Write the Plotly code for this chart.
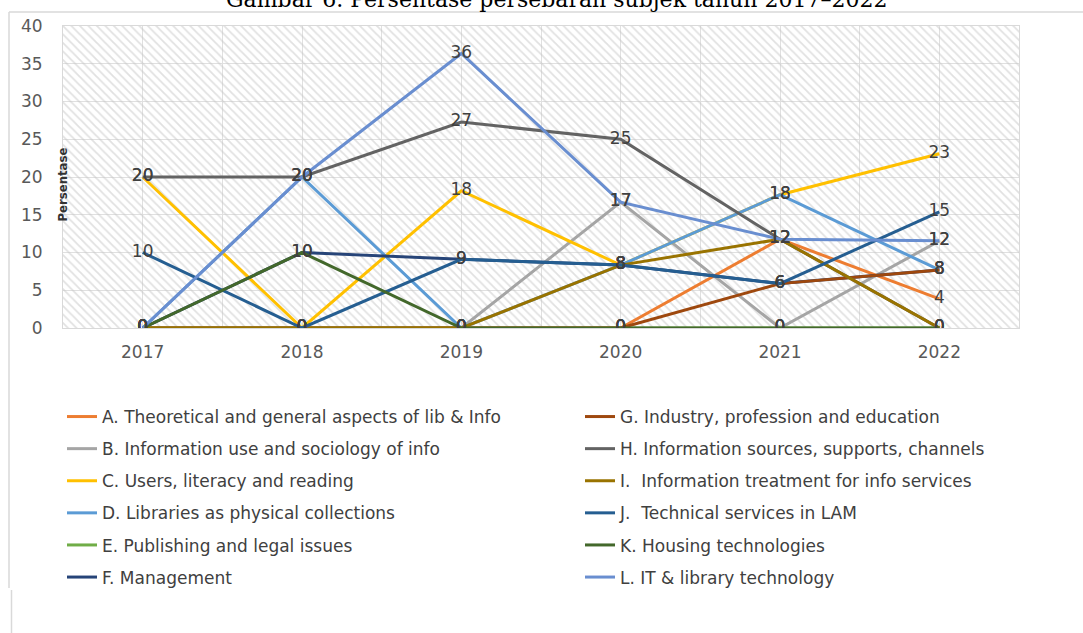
import plotly.graph_objects as go

years = ["2017", "2018", "2019", "2020", "2021", "2022"]

names = [
    "A. Theoretical and general aspects of lib & Info",
    "B. Information use and sociology of info",
    "C. Users, literacy and reading",
    "D. Libraries as physical collections",
    "E. Publishing and legal issues",
    "F. Management",
    "G. Industry, profession and education",
    "H. Information sources, supports, channels",
    "I.  Information treatment for info services",
    "J.  Technical services in LAM",
    "K. Housing technologies",
    "L. IT & library technology",
]

A = [0, 0, 0, 0, 11.76, 3.85]
B = [0, 0, 0, 16.67, 0, 11.54]
C = [20, 0, 18.18, 8.33, 17.65, 23.08]
D = [0, 20, 0, 8.33, 17.65, 7.69]
E = [0, 0, 0, 0, 0, 0]
F = [0, 10, 9.09, 8.33, 5.88, 7.69]
G = [0, 0, 0, 0, 5.88, 7.69]
H = [20, 20, 27.27, 25, 11.76, 0]
I = [0, 0, 0, 8.33, 11.76, 0]
J = [10, 0, 9.09, 8.33, 5.88, 15.38]
K = [0, 10, 0, 0, 0, 0]
L = [0, 20, 36.36, 16.67, 11.76, 11.54]

series = [A, B, C, D, E, F, G, H, I, J, K, L]
colors = ["#ED7D31", "#A5A5A5", "#FFC000", "#5B9BD5", "#70AD47", "#264478",
          "#9E480E", "#636363", "#997300", "#255E91", "#43682B", "#698ED0"]

y_max = 40
xs = list(range(len(years)))

# plot geometry (pixels)
W, Hh = 1083, 633
PL, PR, PT, PB = 63, 1019, 26, 328
pw, ph = PR - PL, PB - PT

def xp(px):
    return (px - PL) / pw

def yp(py):
    return (PB - py) / ph

fig = go.Figure()

# hatched plot background
fig.add_trace(go.Bar(
    x=[(len(years) - 1) / 2], y=[y_max], width=[len(years)], base=[0],
    marker=dict(color="rgba(0,0,0,0)", line=dict(width=0),
                pattern=dict(shape="\\", fgcolor="#c4c4c4", bgcolor="rgba(0,0,0,0)",
                             size=6, solidity=0.3)),
    showlegend=False, hoverinfo="skip",
))

for i, (nm, vals, col) in enumerate(zip(names, series, colors)):
    fig.add_trace(go.Scatter(
        x=xs, y=vals, mode="lines", name=nm,
        line=dict(color=col, width=3),
        legend="legend" if i < 6 else "legend2",
        legendgroup=nm,
    ))

for i, vals in enumerate(series):
    fig.add_trace(go.Scatter(
        x=xs, y=vals, mode="text", texttemplate="%{y:.0f}",
        textposition="middle center",
        textfont=dict(family="DejaVu Sans", size=17, color="#404040"),
        showlegend=False, hoverinfo="skip",
    ))

grid = "#e0e0e0"
fig.update_xaxes(
    range=[-0.5, len(years) - 0.5], tickmode="array", tickvals=xs, ticktext=years,
    showgrid=True, gridcolor=grid, gridwidth=1.3,
    minor=dict(tickmode="linear", tick0=0.5, dtick=1, showgrid=True, gridcolor=grid, gridwidth=1.3),
    showline=True, linecolor="#d9d9d9", linewidth=1, mirror=True,
    ticks="", zeroline=False, ticklabelstandoff=9,
    tickfont=dict(family="DejaVu Sans", size=17, color="#595959"),
)
fig.update_yaxes(
    range=[0, y_max], dtick=5, showgrid=True, gridcolor=grid, gridwidth=1.3,
    showline=True, linecolor="#d9d9d9", linewidth=1, mirror=True,
    ticks="", zeroline=False, ticklabelstandoff=16,
    tickfont=dict(family="DejaVu Sans", size=17, color="#595959"),
)

legend_common = dict(
    orientation="v", xanchor="left", yanchor="top", bgcolor="rgba(0,0,0,0)",
    font=dict(family="DejaVu Sans", size=17, color="#404040"),
    tracegroupgap=7, itemclick=False, itemdoubleclick=False,
)

fig.update_layout(
    width=W, height=Hh,
    margin=dict(l=PL, r=W - PR, t=PT, b=Hh - PB, autoexpand=False),
    paper_bgcolor="white", plot_bgcolor="white",
    bargap=0,
    legend=dict(x=xp(62), y=yp(399), **legend_common),
    legend2=dict(x=xp(580), y=yp(399), **legend_common),
    shapes=[
        dict(type="line", xref="paper", yref="paper", x0=xp(9), x1=xp(1090), y0=yp(12), y1=yp(12),
             line=dict(color="#d9d9d9", width=1.5)),
        dict(type="line", xref="paper", yref="paper", x0=xp(9), x1=xp(9), y0=yp(12), y1=yp(588),
             line=dict(color="#d9d9d9", width=1.5)),
        dict(type="line", xref="paper", yref="paper", x0=xp(11.5), x1=xp(11.5), y0=yp(590), y1=yp(640),
             line=dict(color="#d9d9d9", width=1.5)),
    ],
    annotations=[
        dict(text="Gambar 6. Persentase persebaran subjek tahun 2017–2022", xref="paper", yref="paper",
             x=xp(556), y=yp(-1), xanchor="center", yanchor="middle", showarrow=False,
             font=dict(family="DejaVu Serif", size=22, color="#000000")),
        dict(text="<b>Persentase</b>", xref="paper", yref="paper", x=xp(61.5), y=yp(185),
             xanchor="center", yanchor="middle", textangle=-90, showarrow=False,
             font=dict(family="DejaVu Sans Condensed", size=13, color="#333333")),
    ],
)

fig.write_html("out.html", config={"displayModeBar": False},
               post_script="document.body.style.margin='0px';")
